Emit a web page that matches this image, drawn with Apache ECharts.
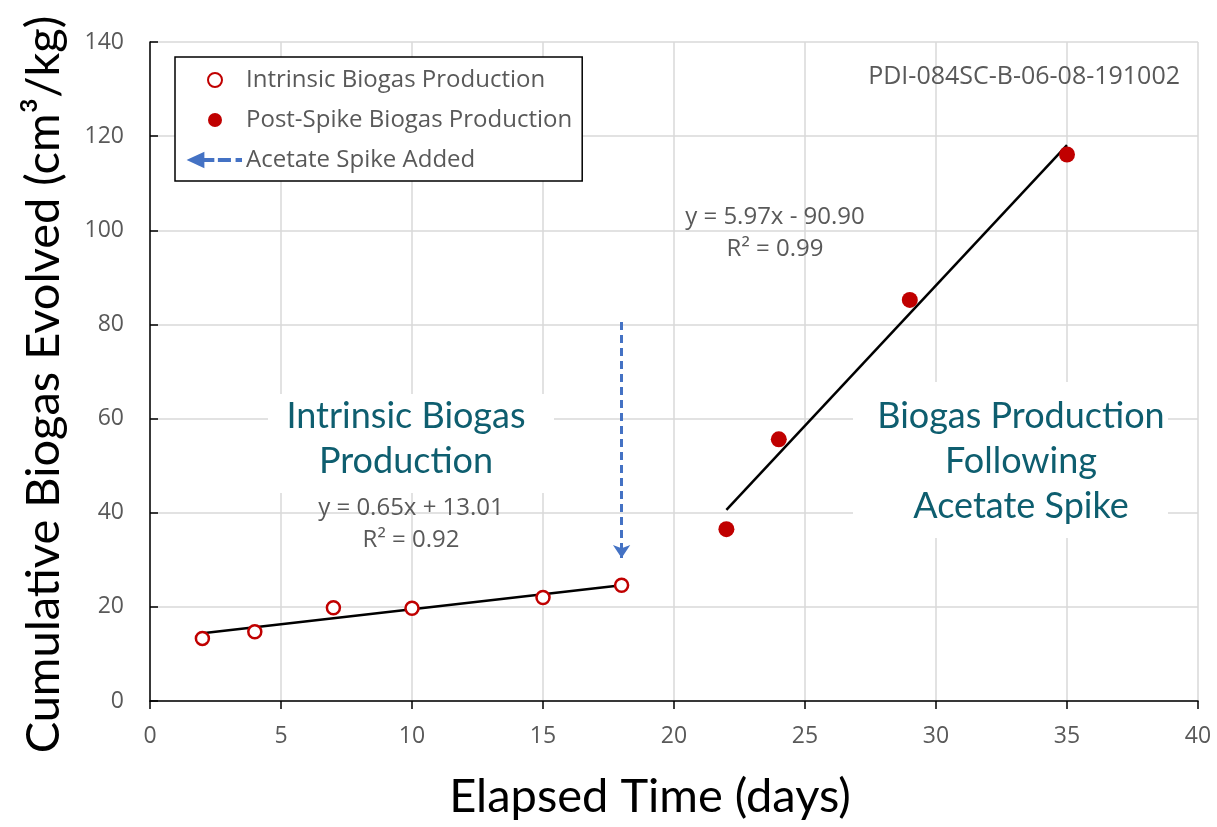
<!DOCTYPE html>
<html>
<head>
<meta charset="utf-8">
<script src="https://cdn.jsdelivr.net/npm/echarts@6/dist/echarts.min.js"></script>
<style>
  html, body { margin: 0; padding: 0; background: #fff; }
  #chart-container { width: 1217px; height: 827px; }
</style>
</head>
<body>
<div id="chart-container"></div>
<script>
var dom = document.getElementById("chart-container");
var myChart = echarts.init(dom, null, { renderer: "canvas" });

// data
const intrinsicDays = [2, 4, 7, 10, 15, 18];
const intrinsicGas = [13.3, 14.7, 19.8, 19.7, 22.0, 24.6];
const spikeDays = [22, 24, 29, 35];
const spikeGas = [36.5, 55.6, 85.2, 116.1];
const intrinsicFit = [[2, 14.4], [18, 24.6]];
const spikeFit = [[22, 40.6], [35, 118.1]];
const spikeArrow = [[18, 80.5], [18, 30.4]];

const gray = '#595959';
const red = '#C00000';
const teal = '#0E5E6F';
const blue = '#4472C4';

function pairs(xs, ys) {
  return xs.map(function (x, i) { return [x, ys[i]]; });
}

// left-pointing dashed arrow for the legend
const arrowIcon = 'path://M0,6 L13,0 L13,12 Z M13,5 L22,5 L22,7 L13,7 Z M27,5 L37,5 L37,7 L27,7 Z M43,5 L47,5 L47,7 L43,7 Z';

var option = {
  animation: false,
  grid: { left: 150, right: 19, top: 42, bottom: 126 },
  legend: {
    left: 175,
    top: 57,
    orient: 'vertical',
    padding: [11, 10, 9, 13],
    itemWidth: 52,
    itemHeight: 14,
    itemGap: 16,
    backgroundColor: '#fff',
    borderColor: '#000',
    borderWidth: 1.5,
    textStyle: { color: gray, fontSize: 24, fontFamily: 'Open Sans', lineHeight: 24 },
    data: [
      { name: 'Intrinsic Biogas Production' },
      { name: 'Post-Spike Biogas Production' },
      { name: 'Acetate Spike Added', icon: arrowIcon, itemStyle: { color: blue } }
    ]
  },
  xAxis: {
    type: 'value',
    min: 0,
    max: 40,
    interval: 5,
    name: 'Elapsed Time (days)',
    nameLocation: 'middle',
    nameGap: 72,
    nameTextStyle: { color: '#000', fontSize: 47, fontFamily: 'Lato', padding: [0, 48, 0, 0] },
    axisLine: { lineStyle: { color: '#000', width: 1.5 } },
    axisTick: { show: true, inside: false, length: 8, lineStyle: { color: '#000', width: 1.5 } },
    axisLabel: { color: gray, fontSize: 23, fontFamily: 'Open Sans', margin: 24 },
    splitLine: { lineStyle: { color: '#d9d9d9', width: 1.5 } }
  },
  yAxis: {
    type: 'value',
    min: 0,
    max: 140,
    interval: 20,
    name: 'Cumulative Biogas Evolved (cm³/kg)',
    nameLocation: 'middle',
    nameGap: 83,
    nameTextStyle: { color: '#000', fontSize: 47, fontFamily: 'Lato', padding: [0, 26, 0, 0] },
    axisLine: { show: true, lineStyle: { color: '#000', width: 1.5 } },
    axisTick: { show: true, inside: true, length: 8, lineStyle: { color: '#000', width: 1.5 } },
    axisLabel: { color: gray, fontSize: 23, fontFamily: 'Open Sans', margin: 26 },
    splitLine: { lineStyle: { color: '#d9d9d9', width: 1.5 } }
  },
  graphic: [
    { type: 'rect', z: 1, shape: { x: 268, y: 394, width: 286, height: 99 }, style: { fill: '#fff' } },
    { type: 'rect', z: 1, shape: { x: 853, y: 382, width: 315, height: 156 }, style: { fill: '#fff' } },
    {
      type: 'text', z: 2,
      style: {
        text: 'Intrinsic Biogas\nProduction', x: 406, y: 394,
        textAlign: 'center', fill: teal, fontSize: 36, fontFamily: 'Lato', lineHeight: 45
      }
    },
    {
      type: 'text', z: 2,
      style: {
        text: 'Biogas Production\nFollowing\nAcetate Spike', x: 1021, y: 394,
        textAlign: 'center', fill: teal, fontSize: 36, fontFamily: 'Lato', lineHeight: 45
      }
    },
    {
      type: 'text', z: 2,
      style: {
        text: 'y = 0.65x + 13.01\nR² = 0.92', x: 411, y: 492,
        textAlign: 'center', fill: gray, fontSize: 24, fontFamily: 'Open Sans', lineHeight: 32
      }
    },
    {
      type: 'text', z: 2,
      style: {
        text: 'y = 5.97x - 90.90\nR² = 0.99', x: 775, y: 201,
        textAlign: 'center', fill: gray, fontSize: 24, fontFamily: 'Open Sans', lineHeight: 32
      }
    },
    {
      type: 'text', z: 2,
      style: {
        text: 'PDI-084SC-B-06-08-191002', x: 1180, y: 64,
        textAlign: 'right', fill: gray, fontSize: 25, fontFamily: 'Open Sans'
      }
    }
  ],
  series: [
    {
      name: 'Intrinsic fit',
      type: 'line',
      data: intrinsicFit,
      symbol: 'none',
      lineStyle: { color: '#000', width: 2.5 },
      z: 3
    },
    {
      name: 'Spike fit',
      type: 'line',
      data: spikeFit,
      symbol: 'none',
      lineStyle: { color: '#000', width: 2.5 },
      z: 3
    },
    {
      name: 'Intrinsic Biogas Production',
      type: 'scatter',
      data: pairs(intrinsicDays, intrinsicGas),
      symbol: 'circle',
      symbolSize: 13,
      itemStyle: { color: '#fff', borderColor: red, borderWidth: 2.5, opacity: 1 },
      z: 4
    },
    {
      name: 'Post-Spike Biogas Production',
      type: 'scatter',
      data: pairs(spikeDays, spikeGas),
      symbol: 'circle',
      symbolSize: 16,
      itemStyle: { color: red, opacity: 1 },
      z: 4
    },
    {
      name: 'Acetate Spike Added',
      type: 'lines',
      coordinateSystem: 'cartesian2d',
      data: [{ coords: spikeArrow }],
      symbol: ['none', 'arrow'],
      symbolSize: 13,
      lineStyle: { color: blue, width: 3, type: [8, 5], opacity: 1 },
      z: 4
    }
  ]
};

if (option && typeof option === "object") {
  myChart.setOption(option);
}

window.addEventListener("resize", myChart.resize);
</script>
</body>
</html>
